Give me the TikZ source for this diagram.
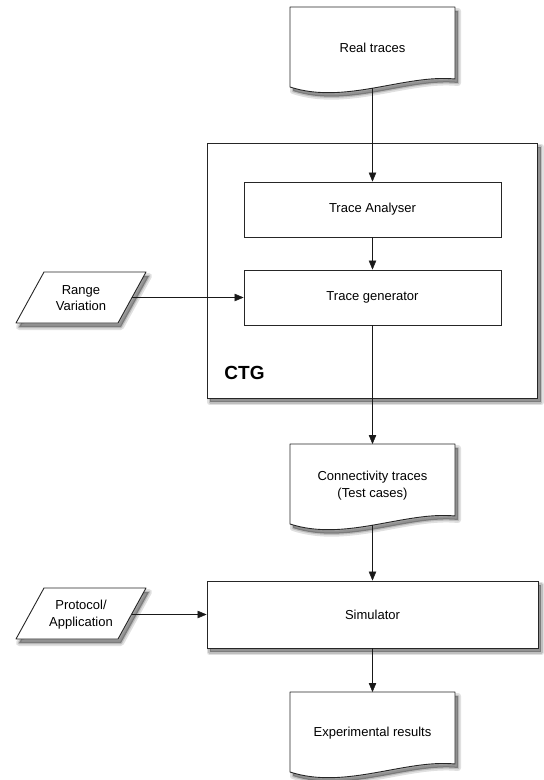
\documentclass[tikz,border=0pt]{standalone}
\usepackage{fontspec}
\setmainfont{Liberation Sans}
\usetikzlibrary{arrows.meta}
\pgfdeclarelayer{bg}
\pgfsetlayers{bg,main}
\newcommand\docpath{(0,0) -- (165,0) -- (165,72) .. controls (115,67) and (55,98) .. (0,80) -- cycle}
\newcommand\parapath{(28,0) -- (130,0) -- (102,51) -- (0,51) -- cycle}
\begin{document}
\begin{tikzpicture}[x=1pt,y=-1pt, line width=0.9pt,
  font=\fontsize{13}{16.5}\selectfont,
  shadowA/.style={fill=black, fill opacity=0.35, draw=black, draw opacity=0.12, line width=6pt, line join=round},
  shadowB/.style={draw=black, draw opacity=0.15, line width=2.5pt, line join=round},
  fillshape/.style={draw=black!85, fill=white, line width=0.9pt, line join=round},
  box/.style={draw=black!85, fill=white, inner sep=0pt, align=center},
  txt/.style={align=center, inner sep=0pt},
  arr/.style={draw=black!90, -{Triangle[length=9pt,width=7.5pt]}}]
\useasboundingbox (0,0) rectangle (544,780);

% CTG container
\node[box, minimum width=330pt, minimum height=255pt] (ctg) at (372.5,270.5) {};
\node[anchor=base west, inner sep=0pt, font=\bfseries\fontsize{19}{19}\selectfont] (ctgl) at (224,379) {CTG};
\node[box, minimum width=257pt, minimum height=55pt] (ta) at (372.5,209.5) {Trace Analyser};
\node[box, minimum width=257pt, minimum height=55pt] (tg) at (372.5,297.5) {Trace generator};

% Simulator
\node[box, minimum width=331pt, minimum height=67pt] (sim) at (372.5,614.5) {Simulator};

% documents
\draw[fillshape, shift={(290,7)}] \docpath;
\node[txt] (rt) at (372.5,48) {Real traces};
\coordinate (rtb) at (372.5,88);

\draw[fillshape, shift={(290,444)}] \docpath;
\node[txt] (ct) at (372.5,485.5) {Connectivity traces\\(Test cases)};
\coordinate (ctt) at (372.5,444);
\coordinate (ctb) at (372.5,525);

\draw[fillshape, shift={(290,692)}] \docpath;
\node[txt] (er) at (372.5,733) {Experimental results};
\coordinate (ert) at (372.5,692);

% parallelograms
\draw[fillshape, shift={(16,272)}] \parapath;
\node[txt] (rv) at (81,298) {Range\\Variation};
\coordinate (rve) at (132,297.5);

\draw[fillshape, shift={(16,588)}] \parapath;
\node[txt] (pa) at (81,614.5) {Protocol/\\Application};
\coordinate (pae) at (132,614.5);

% shadows
\begin{pgfonlayer}{bg}
\foreach \n in {ctg,sim}{
  \path[shadowA] ([shift={(3,4)}]\n.north west) rectangle ([shift={(3,4)}]\n.south east);
  \path[shadowB] ([shift={(3,4)}]\n.north west) rectangle ([shift={(3,4)}]\n.south east);
}
\foreach \sx/\sy in {293/11,293/448,293/696}{
  \path[shadowA, shift={(\sx,\sy)}] \docpath;
  \path[shadowB, shift={(\sx,\sy)}] \docpath;
}
\foreach \sx/\sy in {19/276,19/592}{
  \path[shadowA, shift={(\sx,\sy)}] \parapath;
  \path[shadowB, shift={(\sx,\sy)}] \parapath;
}
\end{pgfonlayer}

% connectors
\draw[arr] (rtb) -- (ta.north);
\draw[arr] (ta.south) -- (tg.north);
\draw[arr] (rve) -- (tg.west);
\draw[arr] (tg.south) -- (ctt);
\draw[arr] (ctb) -- (sim.north);
\draw[arr] (pae) -- (sim.west);
\draw[arr] (sim.south) -- (ert);
\end{tikzpicture}
\end{document}
